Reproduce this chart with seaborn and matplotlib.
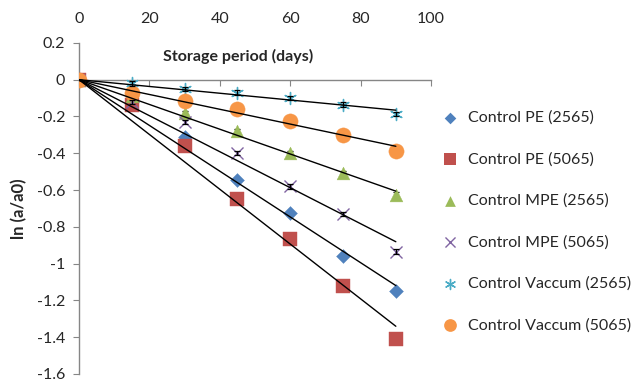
import numpy as np
import pandas as pd
import matplotlib
matplotlib.use("Agg")
import matplotlib.pyplot as plt
import seaborn as sns

days = [0, 15, 30, 45, 60, 75, 90]
series_names = ["Control PE (2565)", "Control PE (5065)", "Control MPE (2565)",
                "Control MPE (5065)", "Control Vaccum (2565)", "Control Vaccum (5065)"]
pe_2565 = [0, -0.12, -0.31, -0.545, -0.725, -0.96, -1.15]
pe_5065 = [0, -0.14, -0.36, -0.65, -0.865, -1.12, -1.41]
mpe_2565 = [0, -0.09, -0.18, -0.28, -0.40, -0.51, -0.625]
mpe_5065 = [0, -0.12, -0.23, -0.40, -0.58, -0.73, -0.935]
vac_2565 = [0, -0.02, -0.05, -0.07, -0.10, -0.135, -0.185]
vac_5065 = [0, -0.07, -0.115, -0.16, -0.225, -0.30, -0.385]
err = [0.0, 0.012, 0.012, 0.012, 0.012, 0.012, 0.012]
y_ticks = [0.2, 0, -0.2, -0.4, -0.6, -0.8, -1, -1.2, -1.4, -1.6]
x_ticks = [0, 20, 40, 60, 80, 100]

all_vals = [pe_2565, pe_5065, mpe_2565, mpe_5065, vac_2565, vac_5065]
colors = ["#4F81BD", "#C0504D", "#9BBB59", "#8064A2", "#4BACC6", "#F79646"]
markers = ["D", "s", "^", "x", (6, 2, 0), "o"]
sizes = [50, 95, 85, 75, 75, 120]

sns.set_style("white")
plt.rcParams['font.family'] = ['Lato', 'DejaVu Sans']

df = pd.DataFrame({
    "day": np.tile(days, len(series_names)),
    "val": np.concatenate(all_vals),
    "series": np.repeat(series_names, len(days)),
})

fig = plt.figure(figsize=(6.32, 3.83), dpi=100)
ax = fig.add_axes([0.125, 0.0235, 0.557, 0.8645])

handles = []
for name, vals, c, m, s in zip(series_names, all_vals, colors, markers, sizes):
    sub = df[df.series == name]
    line_marker = m in ("x", (6, 2, 0))
    sns.scatterplot(data=sub, x="day", y="val", ax=ax, color=c, marker=m, s=s,
                    edgecolor=None if line_marker else c,
                    linewidth=1.0 if line_marker else 0.3, zorder=3, legend=False)
    ax.errorbar(days, vals, yerr=err, fmt="none", ecolor="black", elinewidth=0.9,
                capsize=2.5, capthick=0.9, zorder=3.5 if line_marker else 2.5)
    # linear trend through origin
    x = np.array(days, dtype=float)
    y = np.array(vals, dtype=float)
    slope = np.sum(x * y) / np.sum(x * x)
    xs = np.array([0, 90])
    sns.lineplot(x=xs, y=slope * xs, ax=ax, color="black", linewidth=1.0, zorder=5)
    h = ax.scatter([], [], color=c, marker=m, s=s * 0.7,
                   linewidths=1.0 if line_marker else 0)
    handles.append(h)

ax.set_xlim(0, 100)
ax.set_ylim(-1.6, 0.2)
ax.set_xticks(x_ticks)
ax.set_yticks(y_ticks)
ax.set_yticklabels([("%g" % t) for t in y_ticks])
ax.spines["top"].set_visible(False)
ax.spines["right"].set_visible(False)
ax.spines["bottom"].set_position(("data", 0))
for sp in ("left", "bottom"):
    ax.spines[sp].set_color("#868686")
    ax.spines[sp].set_linewidth(1.0)
ax.tick_params(axis="x", bottom=True, top=False, labelbottom=False, labeltop=True,
               direction="out", length=4, color="#868686", labelsize=11.5, pad=8)
ax.tick_params(axis="y", left=True, direction="out", length=4, color="#868686",
               labelsize=11.5, pad=6)
ax.set_xlabel("")
ax.set_ylabel("ln (a/a0)", fontsize=12, fontweight="bold", labelpad=7)
ax.text(0.452, 0.958, "Storage period (days)", transform=ax.transAxes,
        ha="center", va="center", fontsize=11.5, fontweight="bold")

fig.legend(handles, series_names, loc="upper left", bbox_to_anchor=(0.69, 0.728),
           frameon=False, fontsize=11.5, labelspacing=1.7, handletextpad=0.6,
           handlelength=1.0, borderaxespad=0)

fig.savefig("out.png", dpi=100)
